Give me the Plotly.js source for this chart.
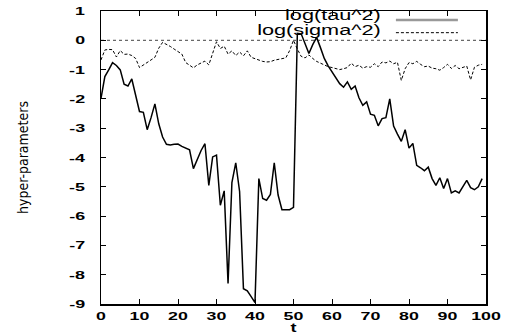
<!DOCTYPE html>
<html>
<head>
<meta charset="utf-8">
<script src="https://cdn.plot.ly/plotly-3.0.1.min.js"></script>
<style>html,body{margin:0;padding:0;background:#fff;}#chart{width:506px;height:335px;}</style>
</head>
<body>
<div id="chart"></div>
<script>
var t = [];
for (var i = 0; i < 100; i++) t.push(i);

var logTau = [-1.98,-1.24,-1.01,-0.76,-0.86,-1.01,-1.50,-1.56,-1.32,-1.86,
  -2.43,-2.46,-3.05,-2.64,-2.17,-2.85,-3.30,-3.55,-3.57,-3.55,
  -3.54,-3.62,-3.68,-3.74,-4.38,-4.08,-3.76,-3.53,-4.95,-3.98,
  -3.92,-5.63,-5.14,-8.30,-4.86,-4.18,-5.16,-8.48,-8.55,-8.75,
  -8.95,-4.72,-5.40,-5.46,-5.26,-4.18,-5.28,-5.78,-5.78,-5.78,
  -5.70,0.24,0.22,-0.10,-0.45,-0.15,0.10,-0.25,-0.62,-0.87,
  -1.08,-1.29,-1.48,-1.60,-1.42,-1.67,-1.56,-1.96,-2.22,-2.10,
  -2.52,-2.56,-2.92,-2.67,-2.64,-2.00,-2.93,-3.20,-3.45,-3.05,
  -3.68,-3.52,-4.27,-4.35,-4.45,-4.33,-4.72,-4.95,-4.69,-5.06,
  -4.72,-5.21,-5.14,-5.21,-4.98,-4.78,-5.03,-5.10,-5.00,-4.72];

var logSigma = [-0.67,-0.33,-0.31,-0.32,-0.57,-0.35,-0.48,-0.47,-0.52,-0.62,
  -0.93,-0.85,-0.76,-0.67,-0.58,-0.27,-0.07,-0.13,-0.21,-0.30,
  -0.38,-0.47,-0.76,-0.85,-0.94,-0.84,-0.76,-0.71,-0.84,-0.44,
  -0.05,-0.28,-0.20,-0.47,-0.36,-0.52,-0.40,-0.53,-0.36,-0.58,
  -0.63,-0.67,-0.72,-0.74,-0.73,-0.68,-0.66,-0.62,-0.60,-0.35,
  0.00,-0.30,-0.55,-0.60,-0.50,-0.62,-0.72,-0.78,-0.84,-0.90,
  -0.93,-0.97,-1.00,-0.97,-0.93,-0.78,-0.90,-0.85,-0.95,-0.90,
  -0.92,-0.80,-0.90,-0.74,-0.77,-0.71,-0.80,-0.75,-1.37,-0.97,
  -0.76,-0.80,-0.72,-0.82,-0.90,-0.88,-0.95,-0.97,-1.02,-0.93,
  -0.82,-0.96,-0.86,-0.97,-0.93,-0.88,-1.35,-0.92,-0.85,-0.82];

var seriesNames = ['log(tau^2)', 'log(sigma^2)'];
var xTicks = [0,10,20,30,40,50,60,70,80,90,100];
var yTicks = [1,0,-1,-2,-3,-4,-5,-6,-7,-8,-9];

var tickFont = {family: 'Liberation Sans, Arial, sans-serif', size: 11.5, color: '#000', weight: 'bold'};

var traces = [
  {x: t, y: logTau, type: 'scatter', mode: 'lines', name: seriesNames[0],
   line: {color: '#000', width: 1.5}},
  {x: t, y: logSigma, type: 'scatter', mode: 'lines', name: seriesNames[1],
   line: {color: '#000', width: 1, dash: '3px,2px'}}
];

var layout = {
  width: 506, height: 335,
  margin: {l: 101, r: 20, t: 11, b: 31, pad: 0},
  paper_bgcolor: '#fff', plot_bgcolor: '#fff',
  showlegend: false,
  xaxis: {
    range: [0, 100], tickvals: xTicks, ticktext: xTicks.map(String),
    ticks: 'inside', ticklen: 5, tickwidth: 1, tickcolor: '#000',
    showline: true, linecolor: '#000', linewidth: 1.5, mirror: 'ticks',
    showgrid: false, zeroline: false, tickfont: tickFont,
    ticklabelstandoff: 1,
    title: {text: 't', font: {family: 'Liberation Sans, Arial, sans-serif', size: 12, color: '#000', weight: 'bold'}, standoff: 7}
  },
  yaxis: {
    range: [-9, 1], tickvals: yTicks, ticktext: yTicks.map(String),
    ticks: 'inside', ticklen: 5, tickwidth: 1, tickcolor: '#000',
    showline: true, linecolor: '#000', linewidth: 1.5, mirror: 'ticks',
    showgrid: false, zeroline: false, tickfont: tickFont,
    ticklabelstandoff: 12,
    title: {text: 'hyper-parameters', font: {family: 'Liberation Sans Narrow, DejaVu Sans Condensed, Arial, sans-serif', size: 14, color: '#000'}, standoff: 43}
  },
  shapes: [
    {type: 'line', xref: 'paper', x0: 0, x1: 1, yref: 'y', y0: 0, y1: 0,
     line: {color: '#444', width: 1, dash: 'dot'}, layer: 'below'},
    {type: 'line', xref: 'paper', x0: 0.766, x1: 0.927, yref: 'paper', y0: 0.969, y1: 0.969,
     line: {color: '#999', width: 2.5}},
    {type: 'line', xref: 'paper', x0: 0.766, x1: 0.927, yref: 'paper', y0: 0.926, y1: 0.926,
     line: {color: '#000', width: 1, dash: '3px,2px'}}
  ],
  annotations: [
    {text: seriesNames[0], xref: 'paper', yref: 'paper', x: 0.733, y: 0.985, xanchor: 'right', yanchor: 'middle',
     showarrow: false, font: {family: 'Liberation Sans, Arial, sans-serif', size: 14, color: '#000'}},
    {text: seriesNames[1], xref: 'paper', yref: 'paper', x: 0.733, y: 0.936, xanchor: 'right', yanchor: 'middle',
     showarrow: false, font: {family: 'Liberation Sans, Arial, sans-serif', size: 14, color: '#000'}}
  ]
};

// Widen text horizontally while keeping a chosen edge in place.
function stretch(sel, f, anchor) {
  document.querySelectorAll(sel).forEach(function (el) {
    var w = el.getComputedTextLength();
    if (!(w > 0)) return;
    var b0 = el.getBBox();
    el.setAttribute('textLength', (w * f).toFixed(1));
    el.setAttribute('lengthAdjust', 'spacingAndGlyphs');
    var b1 = el.getBBox();
    var target, now;
    if (anchor === 'end') { target = b0.x + b0.width; now = b1.x + b1.width; }
    else if (anchor === 'start') { target = b0.x; now = b1.x; }
    else { target = b0.x + b0.width / 2; now = b1.x + b1.width / 2; }
    var x = parseFloat(el.getAttribute('x') || '0');
    el.setAttribute('x', (x + target - now).toFixed(2));
  });
}

Plotly.newPlot('chart', traces, layout, {staticPlot: true}).then(function () {
  stretch('#chart .xtick text', 1.55, 'middle');
  stretch('#chart .ytick text', 1.55, 'end');
  stretch('#chart .annotation-text', 1.55, 'end');
  stretch('#chart .g-xtitle text', 1.5, 'middle');
});
</script>
</body>
</html>
